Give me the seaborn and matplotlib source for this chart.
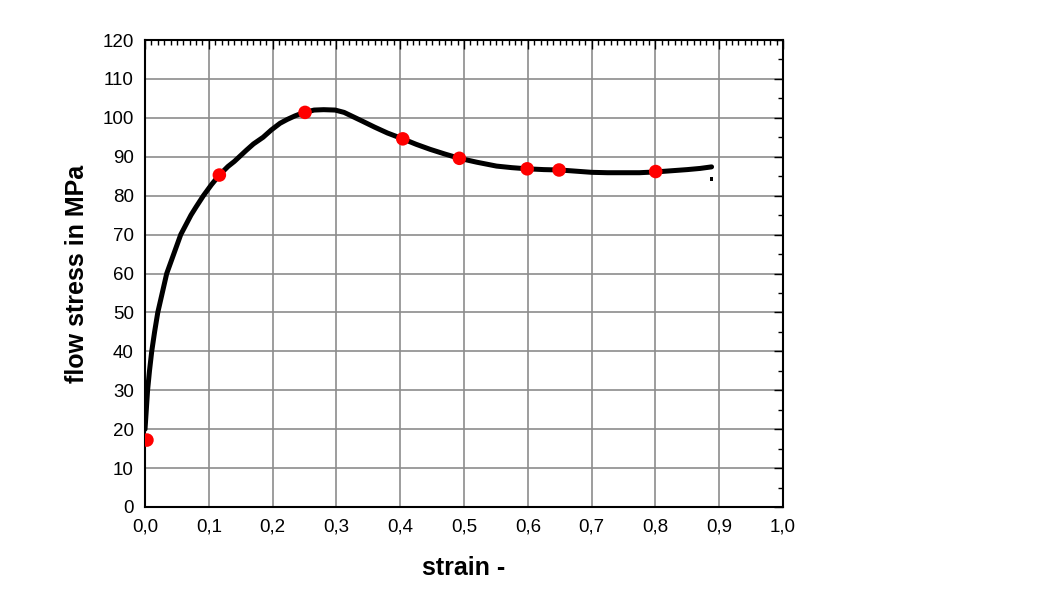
import matplotlib
matplotlib.use('Agg')

import matplotlib.pyplot as plt
import seaborn as sns
import numpy as np
from matplotlib.ticker import MultipleLocator, FuncFormatter

# fitted flow curve
curve_strain = [0.0, 0.002, 0.004, 0.007, 0.0105, 0.015, 0.02, 0.027, 0.034, 0.045,
                0.056, 0.072, 0.08, 0.0915, 0.104, 0.1165, 0.13, 0.14, 0.159, 0.17,
                0.185, 0.198, 0.2116, 0.223, 0.235, 0.243, 0.2508, 0.265, 0.28, 0.298,
                0.312, 0.326, 0.34, 0.36, 0.38, 0.404, 0.425, 0.447, 0.47, 0.4927,
                0.52, 0.551, 0.575, 0.599, 0.625, 0.65, 0.675, 0.70, 0.725, 0.75,
                0.775, 0.80, 0.825, 0.85, 0.87, 0.888]
curve_stress = [20, 25, 30, 35, 40, 45, 50, 55, 60, 65,
                70, 75, 77.1, 80, 82.8, 85.3, 87.5, 88.8, 91.7, 93.3,
                95, 96.9, 98.6, 99.6, 100.5, 101.0, 101.4, 102, 102.1, 102,
                101.4, 100.3, 99.2, 97.6, 96.1, 94.6, 93.2, 91.9, 90.7, 89.6,
                88.6, 87.6, 87.2, 86.9, 86.7, 86.6, 86.3, 86.0, 85.9, 85.9,
                85.9, 86.1, 86.4, 86.7, 87.0, 87.4]

# measured points (red)
meas_strain = [0.003, 0.1165, 0.2508, 0.404, 0.4927, 0.599, 0.649, 0.8004]
meas_stress = [17.2, 85.3, 101.4, 94.6, 89.6, 86.9, 86.6, 86.2]

# stray point at the end of the curve
stray_strain = [0.888]
stray_stress = [84.3]

sns.set_style("white")
plt.rcParams['font.family'] = ['Liberation Sans', 'DejaVu Sans']

fig = plt.figure(figsize=(10.54, 6.09), dpi=100)
ax = fig.add_axes([0.1376, 0.1675, 0.6053, 0.7668])

sns.lineplot(x=curve_strain, y=curve_stress, color="black", linewidth=3.6,
             sort=False, ax=ax, zorder=3, solid_joinstyle="round", solid_capstyle="round")
sns.scatterplot(x=meas_strain, y=meas_stress, color="red", s=95,
                edgecolor="none", ax=ax, zorder=4)
sns.scatterplot(x=stray_strain, y=stray_stress, color="black", s=6, marker="s",
                edgecolor="none", ax=ax, zorder=4)

ax.set_xlim(0, 1.0)
ax.set_ylim(0, 120)
ax.xaxis.set_major_locator(MultipleLocator(0.1))
ax.xaxis.set_minor_locator(MultipleLocator(0.01))
ax.yaxis.set_major_locator(MultipleLocator(10))
ax.yaxis.set_minor_locator(MultipleLocator(5))
ax.xaxis.set_major_formatter(FuncFormatter(lambda v, p: f"{v:.1f}".replace(".", ",")))

ax.grid(True, which="major", color="#8c8c8c", linewidth=1.2)
ax.set_axisbelow(True)
ax.tick_params(which="both", direction="in", top=True, right=True,
               width=1.0, color="black", labelsize=13.5, labelcolor="black")
ax.tick_params(which="major", length=6.5, pad=8)
ax.tick_params(which="minor", length=3.5)
for s in ax.spines.values():
    s.set_color("black")
    s.set_linewidth(1.5)

ax.set_xlabel("strain -", fontsize=18, fontweight="bold", labelpad=15, color="black")
ax.set_ylabel("flow stress in MPa", fontsize=18, fontweight="bold", labelpad=10, color="black")

plt.savefig("out.png", dpi=100)
plt.close(fig)
